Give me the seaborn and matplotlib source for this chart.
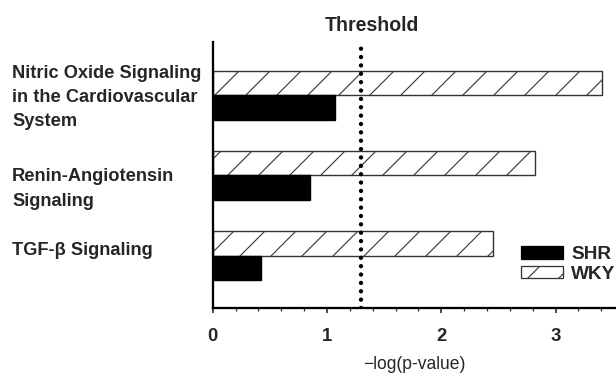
import matplotlib
matplotlib.use("Agg")
import matplotlib.pyplot as plt
import matplotlib.transforms as mtransforms
from matplotlib.patches import Patch
import seaborn as sns
import pandas as pd

# ---- data ----
pathways = ["Nitric Oxide Signaling\nin the Cardiovascular\nSystem",
            "Renin-Angiotensin\nSignaling",
            "TGF-\u03b2 Signaling"]
shr = [1.07, 0.85, 0.42]
wky = [3.41, 2.82, 2.45]
strains = ["WKY", "SHR"]
threshold = 1.3
xticks = [0, 1, 2, 3]

df = pd.DataFrame({
    "pathway": pathways * 2,
    "strain": ["WKY"] * len(pathways) + ["SHR"] * len(pathways),
    "value": wky + shr,
})

DPI = 93
def pt(px):
    return px * 72.0 / DPI

sns.set_style("ticks")
plt.rcParams["font.family"] = ["Liberation Sans", "DejaVu Sans"]
plt.rcParams["hatch.linewidth"] = pt(1.1)

fig = plt.figure(figsize=(616 / DPI, 373 / DPI), dpi=DPI)
W, H = 616.0, 373.0
ax_left, ax_right, ax_top, ax_bottom = 212.7, 616.0, 42.0, 308.0
ax = fig.add_axes([ax_left / W, 1 - ax_bottom / H,
                   (ax_right - ax_left) / W, (ax_bottom - ax_top) / H])

sns.barplot(data=df, y="pathway", x="value", hue="strain", hue_order=strains,
            order=pathways, orient="h", width=0.61, dodge=True,
            palette={"WKY": "white", "SHR": "black"}, saturation=1,
            edgecolor="black", linewidth=pt(1.4), errorbar=None, legend=False, ax=ax)

for bar in ax.containers[0]:
    bar.set_hatch("/")
    bar.set_edgecolor("#333333")

ax.axvline(threshold, color="black", linewidth=pt(4.4),
           linestyle=(0, (0.001, 1.9)), dash_capstyle="round", zorder=5)
ax.annotate("Threshold", xy=(threshold, 1.0), xycoords=("data", "axes fraction"),
            xytext=(11, 11), textcoords="offset pixels", ha="center", va="baseline",
            fontsize=pt(19.5), fontweight="bold")

ax.set_xlim(0, (ax_right - ax_left) / 114.3)
ax.set_ylim(2.65, -0.66)
ax.set_xticks(xticks)
ax.set_xticklabels([str(t) for t in xticks], fontsize=pt(18.5), fontweight="bold")
ax.xaxis.set_minor_locator(matplotlib.ticker.MultipleLocator(0.2))
ax.tick_params(axis="x", which="major", length=pt(5), width=pt(1.6), pad=pt(15), direction="out")
ax.tick_params(axis="x", which="minor", length=pt(3), width=pt(1.2), direction="out")
ax.tick_params(axis="y", length=0, pad=pt(ax_left - 12))

ax.set_ylabel("")
ax.set_xlabel("\u2212log(p-value)", fontsize=pt(17.5), labelpad=pt(11))

offsets = [-3, 8, -7]
for lab, off in zip(ax.get_yticklabels(), offsets):
    lab.set_horizontalalignment("left")
    lab.set_multialignment("left")
    lab.set_fontweight("bold")
    lab.set_fontsize(pt(18.3))
    lab.set_linespacing(1.55)
    lab.set_transform(lab.get_transform() +
                      mtransforms.ScaledTranslation(0, -off / DPI, fig.dpi_scale_trans))

for s in ["top", "right"]:
    ax.spines[s].set_visible(False)
for s in ["left", "bottom"]:
    ax.spines[s].set_linewidth(pt(2.3))
    ax.spines[s].set_color("black")

handles = [Patch(facecolor="black", edgecolor="black", label="SHR"),
           Patch(facecolor="white", edgecolor="#333333", hatch="/", label="WKY")]
fig.legend(handles=handles, loc="center left",
           bbox_to_anchor=(521 / W, 1 - 264.5 / H), bbox_transform=fig.transFigure,
           frameon=False, borderpad=0, borderaxespad=0,
           handlelength=2.2, handleheight=0.62, handletextpad=0.45, labelspacing=0.15,
           prop={"weight": "bold", "size": pt(19)})

fig.savefig("out.png", dpi=DPI)
